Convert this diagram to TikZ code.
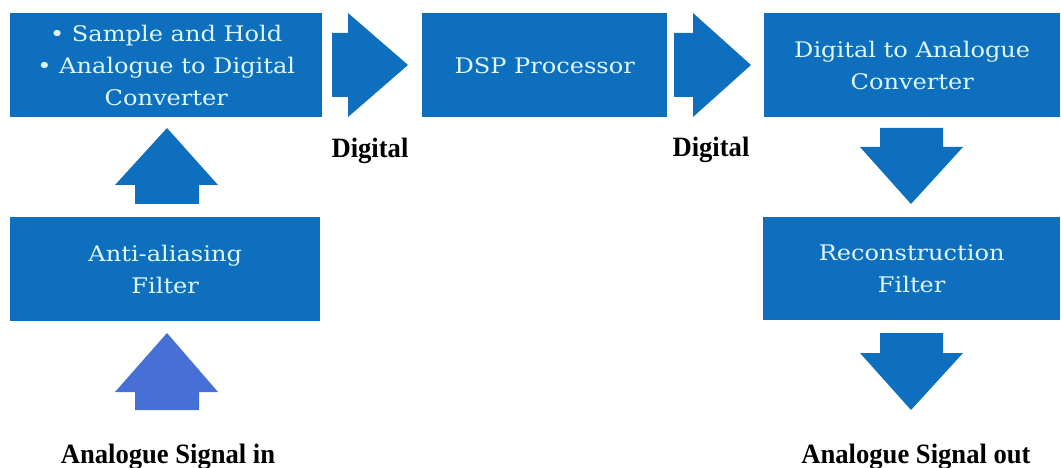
\documentclass[tikz,border=0pt]{standalone}
\usepackage{fontspec}
\setmainfont[FakeStretch=1.12]{DejaVu Serif}
\newfontfamily\labfont[FakeStretch=0.95]{Liberation Serif}
\definecolor{boxblue}{RGB}{14,111,190}
\definecolor{boxtext}{RGB}{222,246,246}
\definecolor{inblue}{RGB}{70,112,214}
\begin{document}
\begin{tikzpicture}[x=1pt,y=-1pt,
  box/.style={fill=boxblue, draw=none, text=boxtext, align=center,
    font=\fontsize{21.5}{32}\selectfont, inner sep=0pt, anchor=north west},
  lab/.style={font=\labfont\bfseries\fontsize{28}{30}\selectfont, text=black, inner sep=0pt, anchor=base},
  blockarrow/.style={fill=boxblue, draw=none},
  inarrow/.style={fill=inblue, draw=none}]
\useasboundingbox (0,0) rectangle (1061,468);
% boxes
\node[box, minimum width=312pt, minimum height=104pt] (adc) at (10,13)
  {\textbullet\ Sample and Hold\\ \textbullet\ Analogue to Digital\\ Converter};
\node[box, minimum width=245pt, minimum height=104pt] (dsp) at (422,13) {DSP Processor};
\node[box, minimum width=296pt, minimum height=104pt] (dac) at (764,13) {Digital to Analogue\\ Converter};
\node[box, minimum width=310pt, minimum height=104pt] (aaf) at (10,217) {Anti-aliasing\\ Filter};
\node[box, minimum width=297pt, minimum height=103pt] (rec) at (763,217) {Reconstruction\\ Filter};
% labels
\node[lab] (d1) at (370,158) {Digital};
\node[lab] (d2) at (711,157) {Digital};
\node[lab] (sin) at (168,463) {Analogue Signal in};
\node[lab] (sout) at (916,463) {Analogue Signal out};
% block arrows
\fill[blockarrow] (332,33) -- (348,33) -- (348,13) -- (408,65) -- (348,117) -- (348,97) -- (332,97) -- cycle;
\fill[blockarrow] (674,33) -- (693,33) -- (693,13) -- (751,65) -- (693,117) -- (693,97) -- (674,97) -- cycle;
\fill[blockarrow] (167,128) -- (218,185) -- (199,185) -- (199,204) -- (135,204) -- (135,185) -- (115,185) -- cycle;
\fill[inarrow] (167,333) -- (218,392) -- (199,392) -- (199,410) -- (135,410) -- (135,392) -- (115,392) -- cycle;
\fill[blockarrow] (880,128) -- (943,128) -- (943,147) -- (963,147) -- (911,204) -- (860,147) -- (880,147) -- cycle;
\fill[blockarrow] (880,333) -- (943,333) -- (943,353) -- (963,353) -- (911,410) -- (860,353) -- (880,353) -- cycle;
\end{tikzpicture}
\end{document}
